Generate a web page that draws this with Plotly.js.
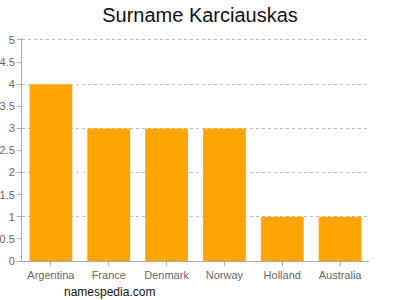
<!DOCTYPE html>
<html>
<head>
<meta charset="utf-8">
<script src="https://cdn.plot.ly/plotly-3.0.1.min.js"></script>
<style>html,body{margin:0;padding:0;background:#fff;}#chart{width:400px;height:300px;}</style>
</head>
<body>
<div id="chart"></div>
<script>
const countries = ["Argentina", "France", "Denmark", "Norway", "Holland", "Australia"];
const counts = [4, 3, 3, 3, 1, 1];
const yTicks = [0, 0.5, 1, 1.5, 2, 2.5, 3, 3.5, 4, 4.5, 5];
const yTickText = ["0", "0.5", "1", "1.5", "2", "2.5", "3", "3.5", "4", "4.5", "5"];
const gridTicks = [1, 2, 3, 4, 5];
const yRange = [0, 5.045];

const traces = [
  {
    type: "bar", x: countries, y: counts, yaxis: "y",
    marker: {color: "rgba(0,0,0,0)"}, hoverinfo: "skip", showlegend: false
  },
  {
    type: "bar", x: countries, y: counts, yaxis: "y2",
    marker: {color: "#FFA500"}, hoverinfo: "x+y", showlegend: false
  }
];

const layout = {
  width: 400, height: 300,
  margin: {l: 22, r: 31, t: 38, b: 39},
  paper_bgcolor: "#fff", plot_bgcolor: "#fff",
  font: {family: "Liberation Sans, Arial, sans-serif", size: 11, color: "#666"},
  title: {text: "Surname Karciauskas", x: 0.5, xanchor: "center", y: 0.95, yanchor: "middle",
          font: {size: 20, color: "#111"}},
  bargap: 0.26,
  xaxis: {
    type: "category", showline: true, linecolor: "#aaa", linewidth: 1,
    ticks: "outside", ticklen: 4, tickcolor: "#aaa", showgrid: false,
    tickfont: {size: 11, color: "#666"}
  },
  yaxis: {
    range: yRange, tickvals: gridTicks, showticklabels: false,
    showgrid: true, gridcolor: "#bbb", griddash: "3px,3px", gridwidth: 1,
    zeroline: false, showline: false, ticks: ""
  },
  yaxis2: {
    overlaying: "y", side: "left", range: yRange, tickvals: yTicks, ticktext: yTickText, showgrid: false,
    showline: true, linecolor: "#aaa", linewidth: 1, zeroline: false,
    ticks: "outside", ticklen: 4, tickcolor: "#aaa",
    tickfont: {size: 11, color: "#666"}
  },
  annotations: [{
    text: "namespedia.com", xref: "paper", yref: "paper",
    x: 0.115, y: -0.14, xanchor: "left", yanchor: "middle", showarrow: false,
    font: {size: 12, color: "#111"}
  }]
};

Plotly.newPlot("chart", traces, layout, {displayModeBar: false, staticPlot: true});
</script>
</body>
</html>
